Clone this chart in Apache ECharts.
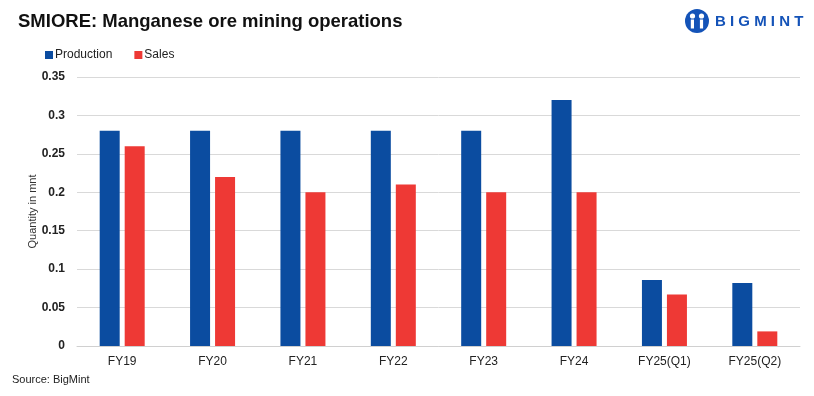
<!DOCTYPE html>
<html><head><meta charset="utf-8">
<script src="https://cdn.jsdelivr.net/npm/echarts@6/dist/echarts.min.js"></script>
<style>html,body{margin:0;padding:0;background:#fff}#c{width:814px;height:396px}</style>
</head><body><div id="c"></div>
<script>
var categories = ['FY19','FY20','FY21','FY22','FY23','FY24','FY25(Q1)','FY25(Q2)'];
var production = [0.28,0.28,0.28,0.28,0.28,0.32,0.086,0.082];
var sales = [0.26,0.22,0.20,0.21,0.20,0.20,0.067,0.019];
var yTicks = [0,0.05,0.1,0.15,0.2,0.25,0.3,0.35];

var chart = echarts.init(document.getElementById('c'));
var blue = '#0B4CA0', red = '#EE3935', logoBlue = '#1453B8';
chart.setOption({
  animation:false,
  title:{text:'SMIORE: Manganese ore mining operations',left:13,top:7,
    textStyle:{fontFamily:'Liberation Sans',fontWeight:'bold',fontSize:18.5,color:'#111'}},
  legend:{left:40,top:44,itemWidth:8,itemHeight:8,itemGap:22,icon:'rect',
    textStyle:{fontFamily:'Liberation Sans',fontSize:12,color:'#222',padding:[0,0,0,-3]},
    data:['Production','Sales']},
  grid:{left:77,right:14,top:77,bottom:50},
  xAxis:{type:'category',data:categories,
    axisLine:{lineStyle:{color:'#d0d0d0'}},axisTick:{show:false},
    axisLabel:{fontFamily:'Liberation Sans',fontSize:12,color:'#222',margin:10}},
  yAxis:{type:'value',min:0,max:0.35,interval:0.05,
    name:'Quantity in mnt',nameLocation:'middle',nameGap:39,nameMoveOverlap:false,
    nameTextStyle:{fontFamily:'Liberation Sans',fontSize:11,color:'#333'},
    splitLine:{lineStyle:{color:'#d9d9d9'}},axisLine:{show:false},axisTick:{show:false},
    axisLabel:{fontFamily:'Liberation Sans',fontWeight:'bold',fontSize:12,color:'#222',margin:12,
      formatter:function(v){var s=yTicks.find(function(t){return Math.abs(t-v)<1e-9;});return s===undefined?'':String(s);}}},
  series:[
    {name:'Production',type:'bar',data:production,barWidth:20,barGap:'25%',itemStyle:{color:blue}},
    {name:'Sales',type:'bar',data:sales,barWidth:20,itemStyle:{color:red}}
  ],
  graphic:[
    {type:'text',left:12,top:374,style:{text:'Source: BigMint',font:'11px "Liberation Sans"',fill:'#222'}},
    {type:'group',left:685,top:9,children:[
      {type:'circle',shape:{cx:12,cy:12,r:12},style:{fill:logoBlue}},
      {type:'circle',shape:{cx:7.5,cy:7,r:2.6},style:{fill:'#fff'}},
      {type:'circle',shape:{cx:16.5,cy:7,r:2.6},style:{fill:'#fff'}},
      {type:'rect',shape:{x:5.8,y:10.5,width:3.2,height:9},style:{fill:'#fff'}},
      {type:'rect',shape:{x:14.9,y:10.5,width:3.2,height:9},style:{fill:'#fff'}},
      {type:'text',x:30,y:5,style:{text:'B I G M I N T',font:'bold 15px "Liberation Sans"',fill:logoBlue}}
    ]}
  ]
});
</script></body></html>
